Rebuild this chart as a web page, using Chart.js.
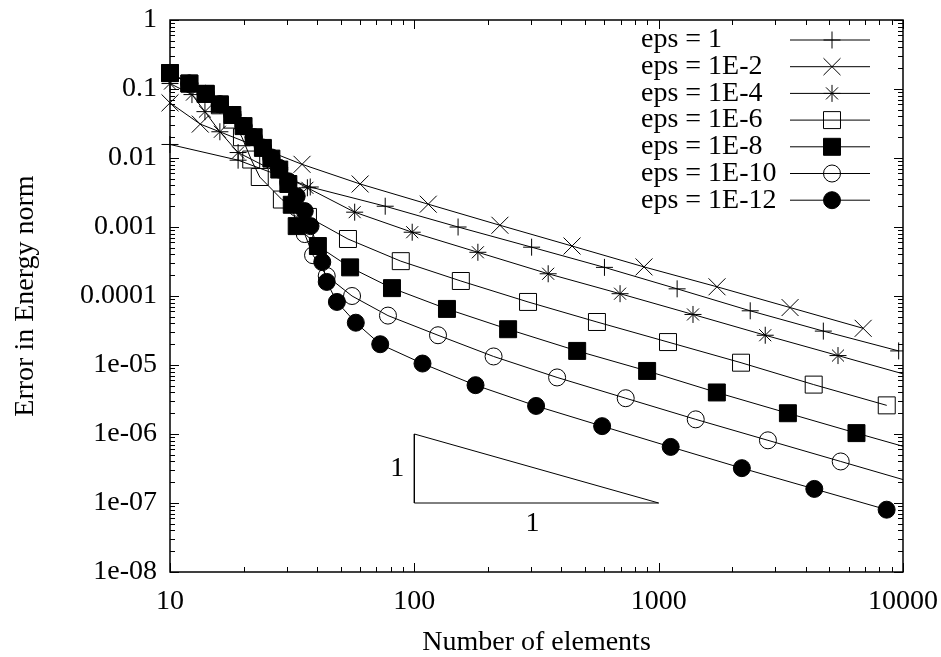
<!DOCTYPE html>
<html>
<head>
<meta charset="utf-8">
<script src="https://cdn.jsdelivr.net/npm/chart.js@4/dist/chart.umd.min.js"></script>
<style>
  html, body { margin: 0; padding: 0; background: #fff; }
  #wrap { width: 941px; height: 657px; position: relative; }
</style>
</head>
<body>
<div id="wrap"><canvas id="errChart"></canvas></div>
<script>
// values (log-log)
const seriesLabels = ['eps = 1', 'eps = 1E-2', 'eps = 1E-4', 'eps = 1E-6', 'eps = 1E-8', 'eps = 1E-10', 'eps = 1E-12'];

const n0 = [10, 19, 37.5, 76, 151, 302, 600, 1190, 2370, 4720, 9600];
const e0 = [0.0157, 0.0093, 0.0038, 0.002, 0.001, 5.1e-4, 2.6e-4, 1.27e-4, 6.1e-5, 3.1e-5, 1.6e-5];

const n2 = [10, 13.3, 34.7, 60, 114, 224, 442, 871, 1733, 3450, 6870];
const e2 = [0.063, 0.031, 0.0081, 0.0042, 0.00214, 0.00106, 5.3e-4, 2.64e-4, 1.36e-4, 6.8e-5, 3.4e-5];

const n4 = [10, 12.3, 13.9, 16, 19, 36.5, 57, 98, 182, 353, 695, 1382, 2730, 5420, 10800];
const e4 = [0.12, 0.083, 0.047, 0.024, 0.012, 0.0037, 0.00164, 8.4e-4, 4.3e-4, 2.1e-4, 1.08e-4, 5.4e-5, 2.7e-5, 1.37e-5, 6.9e-6];

const n6 = [10, 12, 14, 16, 18, 19.7, 21.5, 23.3, 28.7, 36.7, 53.5, 88, 155, 292, 559, 1092, 2173, 4310, 8580];
const e6 = [0.17, 0.12, 0.085, 0.058, 0.036, 0.02, 0.0095, 0.0053, 0.0025, 0.0014, 6.7e-4, 3.2e-4, 1.65e-4, 8.2e-5, 4.2e-5, 2.15e-5, 1.08e-5, 5.2e-6, 2.6e-6];

const n8 = [10, 12, 14, 16, 18, 20, 22, 24, 26, 28, 30.5, 31.5, 33, 40.3, 54.6, 81, 136, 242, 464, 897, 1730, 3380, 6450, 12500];
const e8 = [0.17, 0.12, 0.085, 0.06, 0.042, 0.029, 0.02, 0.014, 0.0098, 0.0068, 0.0042, 0.0021, 0.00103, 5.3e-4, 2.6e-4, 1.3e-4, 6.5e-5, 3.3e-5, 1.6e-5, 8.2e-6, 4.0e-6, 2.0e-6, 1.03e-6, 5.3e-7];

const n10 = [10, 12, 14, 16, 18, 20, 22, 24, 26, 28, 30.5, 33, 35.6, 38.5, 43.8, 55.6, 78, 125, 211, 384, 733, 1418, 2800, 5560, 10900];
const e10 = [0.17, 0.12, 0.085, 0.06, 0.042, 0.029, 0.02, 0.014, 0.0098, 0.0068, 0.0043, 0.0019, 7.9e-4, 3.9e-4, 1.95e-4, 1.0e-4, 5.2e-5, 2.7e-5, 1.33e-5, 6.6e-6, 3.3e-6, 1.63e-6, 8.1e-7, 4.0e-7, 2.0e-7];

const n12 = [10, 12, 14, 16, 18, 20, 22, 24, 26, 28, 30.5, 33, 35.6, 37.6, 42, 43.8, 48.2, 57.6, 72.5, 108, 178, 315, 587, 1120, 2190, 4335, 8570];
const e12 = [0.17, 0.12, 0.085, 0.06, 0.042, 0.029, 0.02, 0.0142, 0.0102, 0.0072, 0.0046, 0.0028, 0.0017, 0.00103, 3.1e-4, 1.6e-4, 8.2e-5, 4.1e-5, 2.0e-5, 1.05e-5, 5.1e-6, 2.55e-6, 1.3e-6, 6.5e-7, 3.2e-7, 1.6e-7, 8.0e-8];

// slope triangle
const triN = [100, 100, 1000, 100];
const triErr = [1e-6, 1e-7, 1e-7, 1e-6];

const xTickVals = [10, 100, 1000, 10000];
const xTickLabels = ['10', '100', '1000', '10000'];
const yTickVals = [1e-8, 1e-7, 1e-6, 1e-5, 0.0001, 0.001, 0.01, 0.1, 1];
const yTickLabels = ['1e-08', '1e-07', '1e-06', '1e-05', '0.0001', '0.001', '0.01', '0.1', '1'];

const FONT = '"Liberation Serif", "Times New Roman", serif';
Chart.defaults.font.family = FONT;
Chart.defaults.font.size = 28;
Chart.defaults.color = '#000';

function makeSet(i, ns, errs, style, radius, filled) {
    return {
        label: seriesLabels[i],
        data: ns.map((n, k) => ({x: n, y: errs[k]})),
        borderColor: '#000',
        borderWidth: 1,
        pointStyle: style,
        pointRadius: radius,
        pointBorderColor: '#000',
        pointBorderWidth: 1,
        pointBackgroundColor: filled ? '#000' : 'rgba(0,0,0,0)',
        tension: 0,
        order: 7 - i,
        clip: {left: 12, top: 12, right: 0, bottom: 0}
    };
}

const datasets = [
    makeSet(0, n0, e0, 'cross', 8.5, false),
    makeSet(1, n2, e2, 'crossRot', 12, false),
    makeSet(2, n4, e4, 'star', 8.5, false),
    makeSet(3, n6, e6, 'rect', 12, false),
    makeSet(4, n8, e8, 'rect', 12, true),
    makeSet(5, n10, e10, 'circle', 8.5, false),
    makeSet(6, n12, e12, 'circle', 8.5, true),
    {
        label: 'slope',
        data: triN.map((n, k) => ({x: n, y: triErr[k]})),
        borderColor: '#000', borderWidth: 1, pointRadius: 0, tension: 0, order: 8
    }
];

// gnuplot-like border, inward ticks, key and annotations
const gnuFrame = {
    id: 'gnuFrame',
    afterDraw(chart) {
        const {ctx, chartArea: a, scales: {x, y}} = chart;
        ctx.save();
        ctx.strokeStyle = '#000';
        ctx.lineWidth = 1;
        ctx.beginPath();
        for (let d = 10; d < 10000; d *= 10) {
            for (let m = 1; m <= 10; m++) {
                const px = Math.round(x.getPixelForValue(d * m)) + 0.5;
                const len = (m === 1 || m === 10) ? 9 : 5;
                ctx.moveTo(px, a.bottom); ctx.lineTo(px, a.bottom - len);
                ctx.moveTo(px, a.top); ctx.lineTo(px, a.top + len);
            }
        }
        for (let d = 1e-8; d < 0.99; d *= 10) {
            for (let m = 1; m <= 10; m++) {
                const py = Math.round(y.getPixelForValue(d * m)) + 0.5;
                const len = (m === 1 || m === 10) ? 9 : 5;
                ctx.moveTo(a.left, py); ctx.lineTo(a.left + len, py);
                ctx.moveTo(a.right, py); ctx.lineTo(a.right - len, py);
            }
        }
        ctx.stroke();
        ctx.lineWidth = 1.5;
        ctx.strokeRect(a.left, a.top, a.right - a.left, a.bottom - a.top);

        // key
        ctx.font = '28px ' + FONT;
        ctx.textBaseline = 'middle';
        ctx.textAlign = 'left';
        for (let i = 0; i < 7; i++) {
            const ds = chart.data.datasets[i];
            const ry = a.top + 20 + i * 26.7;
            ctx.fillStyle = '#000';
            ctx.fillText(ds.label, a.right - 262, ry);
            ctx.lineWidth = 1;
            ctx.beginPath();
            ctx.moveTo(a.right - 113, ry); ctx.lineTo(a.right - 33, ry);
            ctx.stroke();
            ctx.fillStyle = ds.pointBackgroundColor;
            Chart.helpers.drawPoint(ctx, {pointStyle: ds.pointStyle, radius: ds.pointRadius, rotation: 0, borderWidth: 1}, a.right - 71, ry);
        }

        // slope triangle labels
        ctx.fillStyle = '#000';
        ctx.textAlign = 'center';
        const xl = x.getPixelForValue(triN[0]);
        const xr = x.getPixelForValue(triN[2]);
        const yt = y.getPixelForValue(triErr[0]);
        const yb = y.getPixelForValue(triErr[1]);
        ctx.fillText('1', xl - 17, (yt + yb) / 2);
        ctx.fillText('1', (xl + xr) / 2 - 4, yb + 21);

        // axis titles
        ctx.fillText('Number of elements', (a.left + a.right) / 2, a.bottom + 71);
        ctx.translate(26, (a.top + a.bottom) / 2);
        ctx.rotate(-Math.PI / 2);
        ctx.fillText('Error in Energy norm', 0, 0);
        ctx.restore();
    }
};

new Chart(document.getElementById('errChart'), {
    type: 'line',
    data: {datasets: datasets},
    options: {
        responsive: true,
        maintainAspectRatio: false,
        animation: false,
        layout: {padding: {top: 20, right: 38, left: 0, bottom: 0}},
        plugins: {legend: {display: false}, tooltip: {enabled: false}},
        scales: {
            x: {
                type: 'logarithmic', min: 10, max: 10000,
                grid: {display: false, drawTicks: false},
                border: {display: false},
                afterFit: s => { s.height = 85; s.paddingLeft = 0; s.paddingRight = 0; },
                afterBuildTicks: s => { s.ticks = xTickVals.map(v => ({value: v})); },
                ticks: {autoSkip: false, maxRotation: 0, padding: 13, callback: (v, i) => xTickLabels[i]}
            },
            y: {
                type: 'logarithmic', min: 1e-8, max: 1,
                grid: {display: false, drawTicks: false},
                border: {display: false},
                afterFit: s => { s.width = 170; s.paddingTop = 0; s.paddingBottom = 0; },
                afterBuildTicks: s => { s.ticks = yTickVals.map(v => ({value: v})); },
                ticks: {autoSkip: false, padding: 13, callback: (v, i) => yTickLabels[i]}
            }
        }
    },
    plugins: [gnuFrame]
});
</script>
</body>
</html>
